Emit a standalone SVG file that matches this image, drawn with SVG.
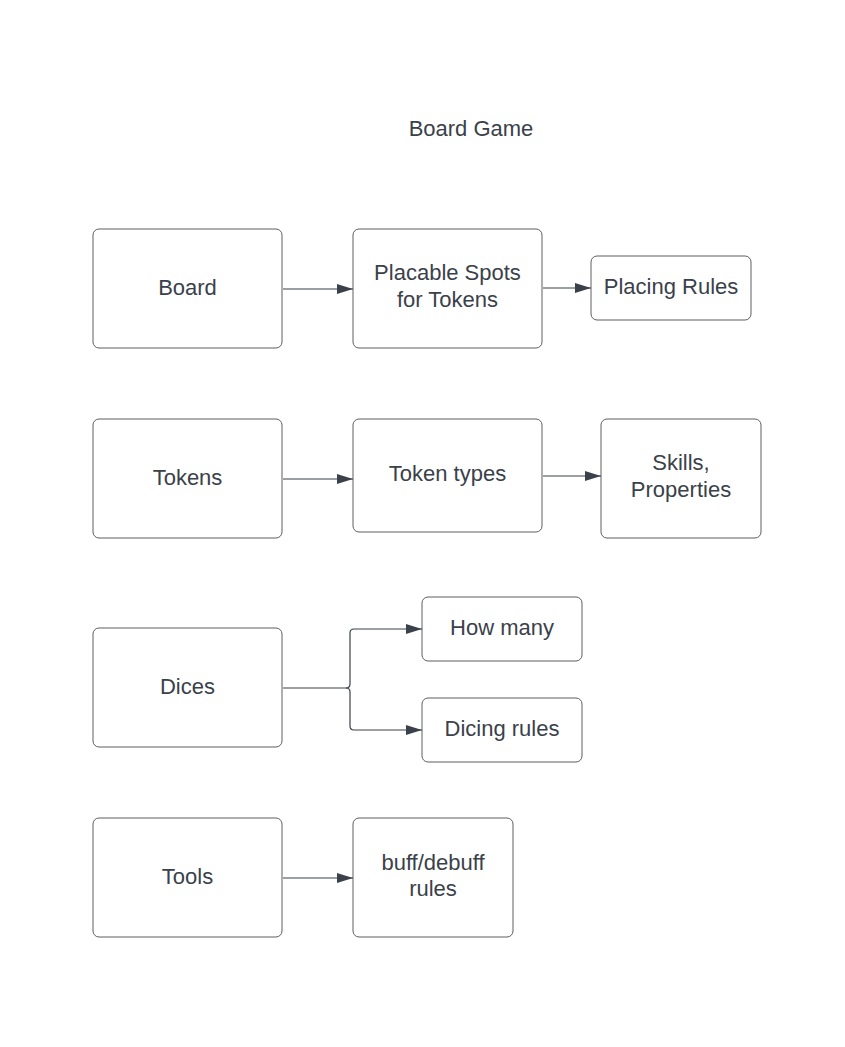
<svg xmlns="http://www.w3.org/2000/svg" width="845" height="1047" viewBox="0 0 845 1047">
<style>
.box{fill:#ffffff;stroke:#5e5e5e;stroke-width:1}
.t{font-family:"Liberation Sans",Arial,sans-serif;font-size:22px;fill:#3a414a;text-anchor:middle}
.c{fill:none;stroke:#3a414a;stroke-width:1.2}
</style>
<defs>
<marker id="ah" viewBox="0 0 16 12" refX="16" refY="6" markerWidth="16" markerHeight="12" markerUnits="userSpaceOnUse" orient="auto">
<path d="M0,1 L16,6 L0,11 Z" fill="#3a414a"/>
</marker>
</defs>
<rect width="845" height="1047" fill="#ffffff"/>
<text class="t" x="471" y="136">Board Game</text>
<g id="board"><rect class="box" x="93" y="229" width="189" height="119" rx="6"/><text class="t" x="187.5" y="295">Board</text></g>
<g id="spots"><rect class="box" x="353" y="229" width="189" height="119" rx="6"/><text class="t" x="447.5" y="279.5">Placable Spots</text><text class="t" x="447.5" y="306.5">for Tokens</text></g>
<g id="placing"><rect class="box" x="591" y="256" width="160" height="64" rx="6"/><text class="t" x="671" y="293.5">Placing Rules</text></g>
<g id="tokens"><rect class="box" x="93" y="419" width="189" height="119" rx="6"/><text class="t" x="187.5" y="485">Tokens</text></g>
<g id="tokentypes"><rect class="box" x="353" y="419" width="189" height="113" rx="6"/><text class="t" x="447.5" y="481">Token types</text></g>
<g id="skills"><rect class="box" x="601" y="419" width="160" height="119" rx="6"/><text class="t" x="681" y="470">Skills,</text><text class="t" x="681" y="497">Properties</text></g>
<g id="dices"><rect class="box" x="93" y="628" width="189" height="119" rx="6"/><text class="t" x="187.5" y="694">Dices</text></g>
<g id="howmany"><rect class="box" x="422" y="597" width="160" height="64" rx="6"/><text class="t" x="502" y="634.5">How many</text></g>
<g id="dicingrules"><rect class="box" x="422" y="698" width="160" height="64" rx="6"/><text class="t" x="502" y="735.5">Dicing rules</text></g>
<g id="tools"><rect class="box" x="93" y="818" width="189" height="119" rx="6"/><text class="t" x="187.5" y="884">Tools</text></g>
<g id="buff"><rect class="box" x="353" y="818" width="160" height="119" rx="6"/><text class="t" x="433" y="869.5">buff/debuff</text><text class="t" x="433" y="895.5">rules</text></g>
<g id="connectors">
<path class="c" d="M283,289 L353,289" marker-end="url(#ah)"/>
<path class="c" d="M543,288 L591,288" marker-end="url(#ah)"/>
<path class="c" d="M283,479 L353,479" marker-end="url(#ah)"/>
<path class="c" d="M543,476 L601,476" marker-end="url(#ah)"/>
<path class="c" d="M283,688 L346,688 Q350,688 350,684 L350,633 Q350,629 354,629 L422,629" marker-end="url(#ah)"/>
<path class="c" d="M346,688 Q350,688 350,692 L350,726 Q350,730 354,730 L422,730" marker-end="url(#ah)"/>
<path class="c" d="M283,878 L353,878" marker-end="url(#ah)"/>
</g>
</svg>
